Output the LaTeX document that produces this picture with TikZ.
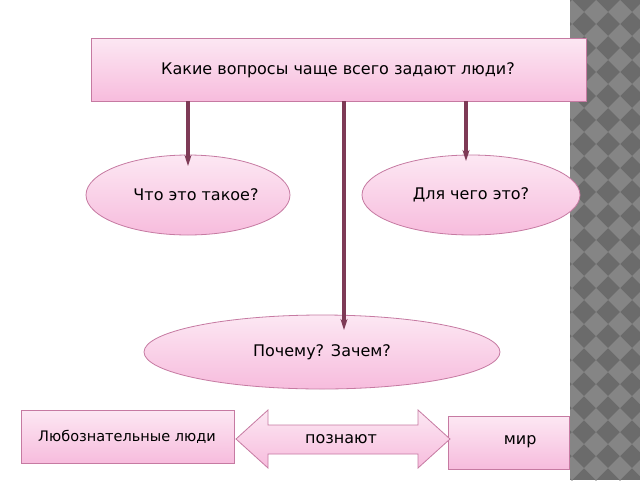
\documentclass[tikz,border=0pt]{standalone}
\usepackage{fontspec}
\setmainfont{DejaVu Sans}
\usetikzlibrary{arrows.meta,shapes.geometric,shapes.arrows}
\definecolor{pinkfill}{HTML}{F7BCDD}
\definecolor{pinkedge}{HTML}{C67AA2}
\definecolor{arr}{HTML}{7E3A56}
\begin{document}
\begin{tikzpicture}[x=1pt,y=-1pt,
  box/.style={draw=pinkedge,line width=0.8pt,top color=pinkfill!35,bottom color=pinkfill},
  lbl/.style={font=\fontsize{16}{18}\selectfont,text=black},
  conn/.style={draw=arr,line width=3.2pt,-{Stealth[length=11pt,width=7pt]}}]
\useasboundingbox (0,0) rectangle (640,480);
\fill[white] (0,0) rectangle (640,480);
\fill[black!58] (570,0) rectangle (640,480);
\foreach \i in {0,...,3}{\foreach \j in {0,...,20}{
  \fill[black!48] ({572+\i*24},{\j*24}) -- ++(12,12) -- ++(-12,12) -- ++(-12,-12) -- cycle;}}
\fill[white] (0,0) rectangle (570,480);
\path[box] (91,38) rectangle (586,101);
\node[lbl] (top) at (338,70) {Какие вопросы чаще всего задают люди?};
\coordinate (t1) at (188,101);\coordinate (t2) at (344,101);\coordinate (t3) at (466,101);
\path[box] (188,195) ellipse [x radius=102,y radius=40];
\node[lbl] (e1) at (196,195) {Что это такое?};
\path[box] (471,195) ellipse [x radius=109,y radius=40];
\node[lbl] (e2) at (471,195) {Для чего это?};
\path[box] (322,352) ellipse [x radius=178,y radius=37];
\node[lbl] (e3) at (322,352) {Почему? Зачем?};
\coordinate (h1) at (188,166);\coordinate (h2) at (344,330);\coordinate (h3) at (466,161);
\draw[conn] (t1) -- (h1);
\draw[conn] (t2) -- (h2);
\draw[conn] (t3) -- (h3);
\path[box] (21,410) rectangle (234,463);
\node[lbl,font=\fontsize{14.5}{16}\selectfont] (l) at (127,437) {Любознательные люди};
\path[box] (448,416) rectangle (569,469);
\node[lbl] (r) at (540,442) [anchor=east] {мир};
\path[box] (236,439) -- (268,410) -- (268,425) -- (418,425) -- (418,410) -- (450,439)
  -- (418,468) -- (418,454) -- (268,454) -- (268,468) -- cycle;
\node[lbl] (m) at (341,439) {познают};
\end{tikzpicture}
\end{document}
